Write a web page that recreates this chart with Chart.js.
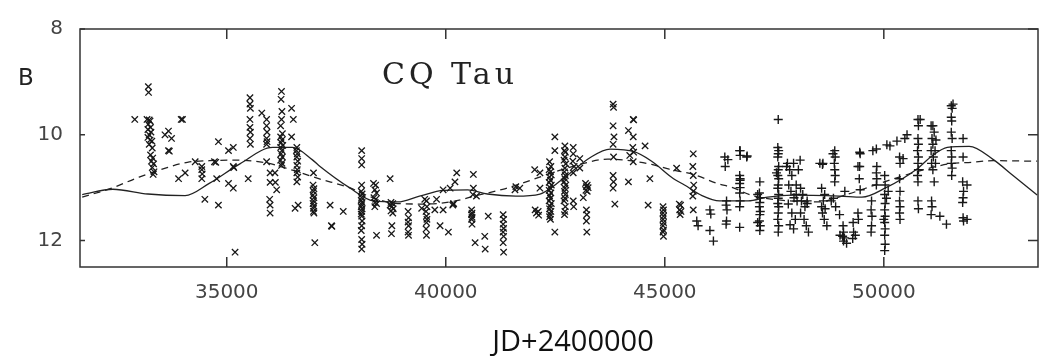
<!DOCTYPE html>
<html>
<head>
<meta charset="utf-8">
<script src="https://cdn.jsdelivr.net/npm/chart.js@4.4.1/dist/chart.umd.min.js"></script>
<style>
  html, body { margin: 0; padding: 0; background: #fff; }
</style>
</head>
<body>
<canvas id="lc" width="1051" height="356"></canvas>
<script>
// axis ticks
const xTicks = [35000, 40000, 45000, 50000];
const yTicks = [8, 10, 12];

// photographic estimates (x markers), [JD-2400000, B]
const crossObs = [
  [32900, 9.71],
  [33210, 9.09], [33215, 9.2], [33180, 9.71], [33230, 9.72], [33250, 9.74], [33210, 9.8], [33260, 9.86], [33200, 9.9],
  [33270, 9.95], [33230, 10.0], [33200, 10.05], [33250, 10.1], [33290, 10.12], [33230, 10.18], [33300, 10.25],
  [33260, 10.38], [33310, 10.44], [33280, 10.5], [33330, 10.55], [33300, 10.62], [33340, 10.7], [33320, 10.75],
  [33590, 10.0], [33670, 9.93], [33740, 10.07], [33670, 10.3], [33690, 10.31],
  [33960, 9.71], [33990, 9.71], [33900, 10.83], [34050, 10.72],
  [34280, 10.51], [34430, 10.6], [34430, 10.66], [34440, 10.74], [34430, 10.83], [34500, 11.22],
  [34720, 10.51], [34750, 10.52], [34810, 10.13], [34770, 10.83], [34810, 11.33],
  [35040, 10.3], [35150, 10.24], [35150, 10.6], [35160, 10.62], [35040, 10.92], [35150, 11.01], [35190, 12.22], [35490, 10.83],
  [35530, 9.3], [35530, 9.42], [35540, 9.5], [35530, 9.71], [35530, 9.86], [35540, 9.95], [35530, 10.07], [35540, 10.18],
  [35800, 9.59], [35910, 9.71], [35910, 9.83], [35920, 9.95], [35910, 10.07], [35920, 10.13], [35910, 10.18], [35910, 10.51],
  [35990, 10.72], [35990, 10.9], [35980, 11.22], [35990, 11.33], [35990, 11.48], [36140, 11.04],
  [36250, 9.18], [36240, 9.33], [36260, 9.56], [36250, 9.71], [36230, 9.83], [36270, 9.98], [36230, 10.04], [36260, 10.1],
  [36240, 10.15], [36280, 10.2], [36230, 10.24], [36260, 10.3], [36240, 10.36], [36270, 10.42], [36230, 10.48],
  [36260, 10.54], [36250, 10.58], [36100, 10.72], [36110, 10.9],
  [36480, 9.5], [36520, 9.71], [36480, 10.04],
  [36600, 10.24], [36590, 10.3], [36610, 10.36], [36600, 10.42], [36620, 10.5], [36600, 10.58], [36610, 10.66],
  [36600, 10.72], [36620, 10.8], [36600, 10.89], [36560, 11.39], [36630, 11.33],
  [36980, 10.72], [36970, 10.95], [36990, 11.02], [36980, 11.07], [36970, 11.14], [36990, 11.19], [36980, 11.25],
  [36970, 11.3], [36990, 11.35], [36980, 11.39], [36980, 11.45], [36990, 11.48], [37010, 12.04],
  [37360, 11.33], [37390, 11.72], [37400, 11.73], [37660, 11.45],
  [38080, 10.3], [38080, 10.45], [38080, 10.57], [38080, 10.95], [38070, 11.07], [38090, 11.12], [38080, 11.19],
  [38070, 11.24], [38090, 11.28], [38080, 11.32], [38070, 11.36], [38090, 11.4], [38080, 11.45], [38070, 11.5],
  [38080, 11.54], [38090, 11.63], [38080, 11.72], [38070, 11.81], [38080, 11.98], [38090, 12.07], [38080, 12.16],
  [38350, 10.92], [38400, 10.95], [38380, 11.04], [38420, 11.1], [38360, 11.19], [38400, 11.22], [38390, 11.28],
  [38420, 11.3], [38380, 11.36], [38420, 11.9], [38730, 10.83],
  [38750, 11.28], [38790, 11.3], [38730, 11.33], [38770, 11.36], [38800, 11.4], [38750, 11.44], [38790, 11.48],
  [38770, 11.72], [38760, 11.87],
  [39140, 11.45], [39150, 11.57], [39140, 11.65], [39150, 11.72], [39140, 11.84], [39150, 11.9],
  [39450, 11.39], [39520, 11.22], [39560, 11.25], [39570, 11.36], [39550, 11.45], [39560, 11.54], [39570, 11.6],
  [39560, 11.66], [39550, 11.78], [39560, 11.9], [39790, 11.22],
  [39750, 11.42], [39870, 11.72], [40060, 11.84], [39940, 11.42], [39940, 11.04], [40100, 11.01], [40210, 10.89], [40250, 10.72],
  [40170, 11.31], [40180, 11.3], [40160, 11.33],
  [40630, 10.75], [40630, 11.01], [40620, 11.13], [40590, 11.42], [40600, 11.48], [40590, 11.51], [40600, 11.56],
  [40590, 11.6], [40600, 11.69], [40700, 11.16],
  [40670, 12.04], [40890, 11.92], [40900, 12.16], [40970, 11.54],
  [41310, 11.51], [41320, 11.6], [41310, 11.69], [41320, 11.77], [41310, 11.84], [41320, 11.92], [41310, 12.04], [41320, 12.22],
  [41690, 11.01], [41580, 11.04], [41600, 10.98],
  [42030, 10.66], [42150, 10.72], [42150, 11.01],
  [42070, 11.48], [42110, 11.45], [42040, 11.42], [42120, 11.52],
  [42370, 10.51], [42400, 10.6], [42360, 10.66], [42390, 10.7], [42410, 10.76], [42370, 10.8], [42390, 10.86],
  [42360, 10.9], [42410, 10.95], [42380, 11.0], [42360, 11.05], [42400, 11.1], [42370, 11.15], [42390, 11.2],
  [42360, 11.25], [42410, 11.3], [42380, 11.35], [42370, 11.4], [42400, 11.45], [42380, 11.5], [42370, 11.55],
  [42390, 11.6], [42490, 10.04], [42490, 10.3], [42490, 11.84],
  [42720, 10.21], [42710, 10.3], [42730, 10.33], [42720, 10.42], [42700, 10.48], [42740, 10.55], [42720, 10.63],
  [42710, 10.7], [42730, 10.77], [42720, 10.83], [42700, 10.89], [42740, 10.95], [42720, 11.01], [42710, 11.07],
  [42730, 11.13], [42720, 11.2], [42700, 11.25], [42730, 11.36], [42720, 11.45], [42710, 11.51],
  [42910, 10.24], [42910, 10.36], [42910, 10.72], [42910, 11.25], [42920, 11.36], [42900, 10.5], [42930, 10.6],
  [43060, 10.45], [43060, 10.63],
  [43190, 10.92], [43230, 10.95], [43210, 10.98], [43250, 11.0], [43200, 11.05], [43230, 11.07], [43140, 11.19],
  [43210, 11.42], [43220, 11.51], [43210, 11.63], [43220, 11.84],
  [43820, 9.42], [43830, 9.48], [43820, 9.83], [43840, 10.04], [43820, 10.18], [43830, 10.42], [43820, 10.77],
  [43830, 10.89], [43820, 11.01], [43860, 11.31],
  [44170, 9.92], [44170, 10.89],
  [44280, 9.71], [44290, 9.72], [44280, 10.04], [44270, 10.24], [44290, 10.33], [44280, 10.51], [44200, 10.39],
  [44550, 10.21], [44660, 10.83], [44620, 11.33],
  [44960, 11.36], [44970, 11.42], [44960, 11.48], [44970, 11.54], [44960, 11.6], [44970, 11.66], [44960, 11.72],
  [44970, 11.8], [44960, 11.84], [44970, 11.92],
  [45270, 10.63],
  [45330, 11.31], [45360, 11.33], [45340, 11.42], [45370, 11.45], [45350, 11.51],
  [45650, 10.36], [45640, 10.6], [45650, 10.77], [45660, 10.95], [45650, 11.07], [45640, 11.16], [45650, 11.42]
];

// photoelectric measurements (+ markers), [JD-2400000, B]
const plusObs = [
  [45730, 11.63], [45760, 11.72], [46030, 11.42], [46030, 11.81], [46110, 12.01], [46050, 11.5],
  [46370, 10.42], [46380, 10.6], [46410, 11.25], [46400, 11.33], [46420, 11.42], [46410, 11.63], [46400, 11.69],
  [46440, 10.47], [46720, 10.3], [46720, 10.83],
  [46710, 10.3], [46720, 10.39], [46870, 10.42], [46880, 10.4],
  [46710, 10.77], [46720, 10.86], [46710, 10.92], [46720, 11.0], [46710, 11.1], [46720, 11.25], [46710, 11.36], [46710, 11.75],
  [47120, 11.13], [47120, 11.66],
  [47170, 10.89], [47160, 11.1], [47180, 11.19], [47170, 11.28], [47160, 11.36], [47180, 11.45], [47170, 11.51],
  [47160, 11.63], [47180, 11.72], [47170, 11.81],
  [47590, 9.71], [47550, 10.72],
  [47580, 10.24], [47600, 10.3], [47590, 10.36], [47580, 10.42], [47600, 10.6], [47590, 10.66], [47580, 10.77],
  [47600, 10.83], [47590, 10.95], [47580, 11.01], [47600, 11.13], [47590, 11.2], [47580, 11.3], [47600, 11.36],
  [47590, 11.48], [47580, 11.6], [47600, 11.72], [47590, 11.84],
  [47780, 10.6], [47940, 10.54], [48000, 11.13], [48250, 11.3],
  [47800, 10.54], [47850, 10.66], [47900, 10.77], [47830, 10.95], [47880, 11.07], [47950, 11.19], [47820, 11.31],
  [47900, 11.48], [47980, 11.6], [47860, 11.7], [47940, 11.78], [48050, 10.66], [48020, 11.25], [48000, 10.95],
  [48090, 10.48], [48100, 11.01], [48150, 11.13], [48120, 11.25], [48200, 11.36], [48250, 11.25], [48100, 11.48],
  [48230, 11.72], [48280, 11.84], [48180, 11.6],
  [48540, 10.54], [48600, 10.56], [48580, 11.01], [48650, 11.13], [48620, 11.25], [48580, 11.36], [48660, 11.4],
  [48600, 11.48], [48640, 11.6], [48700, 11.72], [48610, 10.54], [48840, 10.36],
  [48880, 10.3], [48890, 10.42], [48870, 10.54], [48880, 10.66], [48890, 10.77], [48880, 10.89],
  [48800, 11.25], [48900, 11.36], [48990, 11.51], [48850, 11.2],
  [49070, 11.72], [49080, 11.84], [49060, 11.92], [49080, 12.01], [49100, 11.95], [49150, 12.05], [49000, 11.9], [49110, 11.07],
  [49300, 11.66], [49310, 11.84], [49290, 11.96], [49350, 11.9],
  [49450, 10.33], [49450, 10.6], [49440, 10.83], [49460, 11.04], [49410, 10.6], [49460, 10.36],
  [49410, 11.48], [49420, 11.6],
  [49720, 11.25], [49710, 11.42], [49730, 11.54], [49720, 11.72], [49710, 11.84], [49750, 10.3],
  [49830, 10.27], [49840, 10.6], [49830, 10.72], [49840, 10.83], [49830, 10.95],
  [50020, 10.77], [50030, 10.95], [50020, 11.13], [50030, 11.3], [50020, 11.42], [50030, 11.54], [50020, 11.66],
  [50030, 11.78], [50020, 11.9], [50030, 12.07], [50020, 12.19], [50060, 11.2], [50000, 11.6], [50070, 10.19],
  [50140, 10.21], [50100, 11.07], [50300, 10.12],
  [50360, 10.42], [50370, 10.54], [50360, 10.83], [50370, 11.07], [50360, 11.25], [50370, 11.36], [50360, 11.48],
  [50370, 11.6], [50480, 10.07], [50440, 10.45], [50530, 10.0],
  [50780, 9.71], [50790, 9.83], [50780, 10.07], [50790, 10.18], [50770, 10.3], [50790, 10.42], [50780, 10.54],
  [50790, 10.66], [50770, 10.77], [50780, 10.89], [50780, 11.25], [50790, 11.4], [50830, 9.71],
  [51080, 9.83], [51150, 9.95], [51100, 10.07], [51190, 10.1], [51120, 10.18], [51080, 10.3], [51170, 10.3],
  [51130, 10.42], [51090, 10.54], [51180, 10.54], [51120, 10.66], [51150, 10.89], [51090, 11.25], [51100, 11.36], [51080, 11.51],
  [51120, 9.83], [51280, 11.54], [51430, 11.69],
  [51540, 9.45], [51560, 9.5], [51540, 9.67], [51550, 9.74], [51540, 9.95], [51560, 10.07], [51540, 10.3],
  [51550, 10.42], [51540, 10.54], [51560, 10.63], [51550, 10.77], [51580, 9.42],
  [51810, 10.07], [51810, 10.42], [51800, 10.89], [51820, 11.07], [51810, 11.19], [51800, 11.28], [51810, 11.57], [51820, 11.63],
  [51900, 10.95], [51900, 11.6]
];

// fitted curves
const solidJD = [31700, 32400, 33200, 34050, 34600, 35300, 36050, 36500, 36950, 37130, 37800, 38350, 38900, 39400,
  39950, 40500, 40950, 41600, 42150, 42650, 43300, 43750, 44300, 44700, 45200, 45450, 45850, 46250, 46900, 47350,
  47900, 49000, 49500, 50050, 50750, 51100, 51450, 51950, 52500, 52950, 53500];
const solidB = [11.13, 11.03, 11.12, 11.15, 10.92, 10.55, 10.24, 10.24, 10.47, 10.6, 11.0, 11.25, 11.27, 11.16,
  11.05, 11.04, 11.12, 11.16, 11.12, 10.85, 10.43, 10.27, 10.32, 10.5, 10.83, 10.95, 11.15, 11.25, 11.25, 11.18,
  11.14, 11.16, 11.18, 11.0, 10.65, 10.4, 10.24, 10.22, 10.47, 10.77, 11.14];

const dashJD = [31700, 32400, 33000, 33600, 34100, 34600, 35200, 35900, 36500, 37100, 37800, 38300, 38900, 39500,
  40100, 40700, 41300, 41800, 42500, 43150, 43700, 44200, 44700, 45100, 45650, 46200, 46550, 47000, 47700, 48500,
  49150, 49800, 50350, 50950, 51500, 52000, 52500, 53500];
const dashB = [11.18, 11.0, 10.8, 10.63, 10.52, 10.49, 10.48, 10.53, 10.67, 10.83, 11.0, 11.18, 11.3, 11.31,
  11.27, 11.15, 11.03, 10.9, 10.7, 10.54, 10.46, 10.49, 10.56, 10.65, 10.75, 10.92, 11.0, 11.15, 11.24, 11.27,
  11.13, 10.95, 10.8, 10.65, 10.55, 10.52, 10.49, 10.5];

const ink = '#181818';

// frame with inward ticks and the in-plot labels
const frame = {
  id: 'frame',
  afterDatasetsDraw(chart) {
    const { ctx, chartArea: a, scales: { x, y } } = chart;
    ctx.save();
    ctx.strokeStyle = '#333';
    ctx.lineWidth = 1.5;
    ctx.strokeRect(a.left, a.top, a.right - a.left, a.bottom - a.top);
    ctx.beginPath();
    xTicks.forEach(v => {
      const px = x.getPixelForValue(v);
      ctx.moveTo(px, a.bottom); ctx.lineTo(px, a.bottom - 10);
      ctx.moveTo(px, a.top); ctx.lineTo(px, a.top + 10);
    });
    yTicks.forEach(v => {
      const py = y.getPixelForValue(v);
      ctx.moveTo(a.left, py); ctx.lineTo(a.left + 5, py);
      ctx.moveTo(a.right, py); ctx.lineTo(a.right - 10, py);
    });
    ctx.stroke();

    ctx.fillStyle = '#222';
    ctx.font = '23px "DejaVu Sans"';
    ctx.fillText('B', 18, 85);
    ctx.font = '30px "DejaVu Serif"';
    ctx.letterSpacing = '4px';
    ctx.fillText('CQ Tau', 382, 84);
    ctx.letterSpacing = '0px';

    // x axis title
    ctx.fillStyle = '#111';
    ctx.font = '29px "Open Sans"';
    ctx.textAlign = 'center';
    ctx.fillText('JD+2400000', 573, 351);
    ctx.restore();
  }
};

const chart = new Chart(document.getElementById('lc'), {
  type: 'scatter',
  data: {
    datasets: [
      {
        label: 'photographic',
        data: crossObs.map(p => ({ x: p[0], y: p[1] })),
        pointStyle: 'crossRot',
        pointRadius: 4.5,
        borderColor: ink,
        borderWidth: 1.3,
      },
      {
        label: 'photoelectric',
        data: plusObs.map(p => ({ x: p[0], y: p[1] })),
        pointStyle: 'cross',
        pointRadius: 4.5,
        borderColor: ink,
        borderWidth: 1.4,
      },
      {
        label: 'fit',
        data: solidJD.map((v, i) => ({ x: v, y: solidB[i] })),
        showLine: true,
        pointRadius: 0,
        borderColor: '#222',
        borderWidth: 1.3,
        cubicInterpolationMode: 'monotone',
      },
      {
        label: 'fit 2',
        data: dashJD.map((v, i) => ({ x: v, y: dashB[i] })),
        showLine: true,
        pointRadius: 0,
        borderColor: '#222',
        borderWidth: 1.3,
        borderDash: [7, 5],
        cubicInterpolationMode: 'monotone',
      },
    ],
  },
  options: {
    responsive: false,
    animation: false,
    layout: { padding: { top: 13, right: 13, left: 0, bottom: 0 } },
    plugins: { legend: { display: false }, tooltip: { enabled: false } },
    scales: {
      x: {
        type: 'linear',
        min: 31650,
        max: 53520,
        afterBuildTicks: s => { s.ticks = xTicks.map(v => ({ value: v })); },
        afterFit: s => { s.height = 89; },
        grid: { display: false, drawTicks: false },
        border: { display: false },
        ticks: {
          padding: 14,
          maxRotation: 0,
          color: '#444',
          font: { family: 'DejaVu Sans', size: 20 },
          callback: v => String(v),
        },
      },
      y: {
        reverse: true,
        min: 8,
        max: 12.5,
        afterBuildTicks: s => { s.ticks = yTicks.map(v => ({ value: v })); },
        afterFit: s => { s.width = 80; },
        grid: { display: false, drawTicks: false },
        border: { display: false },
        ticks: {
          padding: 17,
          color: '#444',
          font: { family: 'DejaVu Sans', size: 20 },
        },
      },
    },
  },
  plugins: [frame],
});
</script>
</body>
</html>
